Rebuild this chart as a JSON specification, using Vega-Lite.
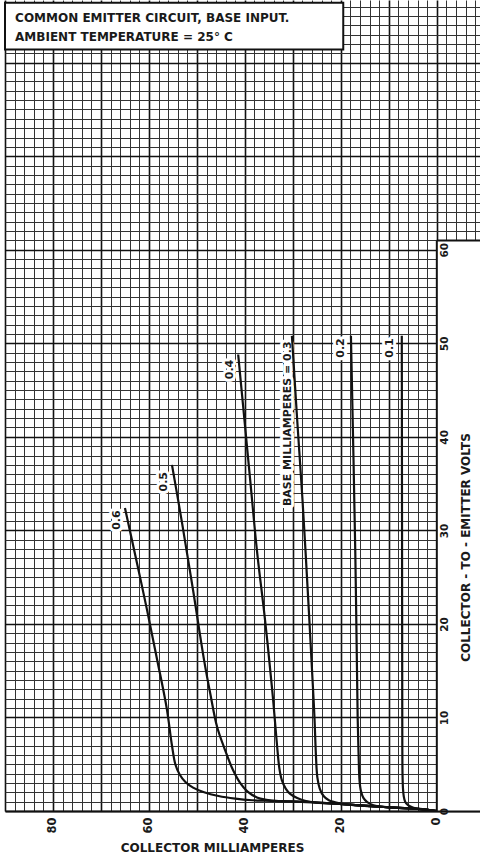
{
  "$schema": "https://vega.github.io/schema/vega-lite/v6.json",
  "width": 475,
  "height": 811,
  "autosize": {"type": "none"},
  "padding": {"left": 5, "top": 0, "right": 0, "bottom": 44},
  "background": "white",
  "config": {"view": {"stroke": null}, "font": "DejaVu Sans"},
  "resolve": {"axis": {"x": "independent", "y": "independent"}},
  "layer": [
    {
      "data": {"values": [{"ma": 0, "ma2": -9, "v": 0, "v2": 61}]},
      "mark": {"type": "rect", "fill": "white", "strokeWidth": 0},
      "encoding": {
        "x": {"field": "ma", "type": "quantitative", "scale": {"domain": [-9, 90], "reverse": true, "nice": false, "zero": false},
          "axis": {"orient": "bottom", "values": [-8,-6,-4,-2,0,2,4,6,8,10,12,14,16,18,20,22,24,26,28,30,32,34,36,38,40,42,44,46,48,50,52,54,56,58,60,62,64,66,68,70,72,74,76,78,80,82,84,86,88,90],
            "grid": true, "labels": false, "ticks": false, "domain": false, "title": null, "zindex": 0,
            "gridColor": {"condition": {"test": "datum.value % 10 === 0", "value": "#111111"}, "value": "#333333"},
            "gridWidth": {"condition": {"test": "datum.value % 10 === 0", "value": 1.6}, "value": 1},
            "gridOpacity": 1}},
        "x2": {"field": "ma2"},
        "y": {"field": "v", "type": "quantitative", "scale": {"domain": [0, 86.7], "nice": false, "zero": false},
          "axis": {"orient": "left", "values": [0,1,2,3,4,5,6,7,8,9,10,11,12,13,14,15,16,17,18,19,20,21,22,23,24,25,26,27,28,29,30,31,32,33,34,35,36,37,38,39,40,41,42,43,44,45,46,47,48,49,50,51,52,53,54,55,56,57,58,59,60,61,62,63,64,65,66,67,68,69,70,71,72,73,74,75,76,77,78,79,80,81,82,83,84,85,86],
            "grid": true, "labels": false, "ticks": false, "domain": false, "title": null, "zindex": 0,
            "gridColor": {"condition": {"test": "datum.value % 10 === 0", "value": "#111111"}, "value": "#333333"},
            "gridWidth": {"condition": {"test": "datum.value % 10 === 0", "value": 1.6}, "value": 1},
            "gridOpacity": 1}},
        "y2": {"field": "v2"}
      }
    },
    {
      "data": {"values": [{"ma": 90, "ma2": 19.5, "v": 81.4, "v2": 86.4}]},
      "mark": {"type": "rect", "fill": "white", "stroke": "#111111", "strokeWidth": 2},
      "encoding": {
        "x": {"field": "ma", "type": "quantitative", "scale": {"domain": [-9, 90], "reverse": true, "nice": false, "zero": false}, "axis": null},
        "x2": {"field": "ma2"},
        "y": {"field": "v", "type": "quantitative", "scale": {"domain": [0, 86.7], "nice": false, "zero": false}, "axis": null},
        "y2": {"field": "v2"}
      }
    },
    {
      "data": {"values": [{"ma": 0, "ma2": 0, "v": 0, "v2": 61}, {"ma": 0, "ma2": -9, "v": 61, "v2": 61}]},
      "mark": {"type": "rule", "color": "#111111", "strokeWidth": 2},
      "encoding": {
        "x": {"field": "ma", "type": "quantitative", "scale": {"domain": [-9, 90], "reverse": true, "nice": false, "zero": false}, "axis": null},
        "x2": {"field": "ma2"},
        "y": {"field": "v", "type": "quantitative", "scale": {"domain": [0, 86.7], "nice": false, "zero": false}, "axis": null},
        "y2": {"field": "v2"}
      }
    },
    {
      "data": {"name": "labels", "values": [
        {"label": "0.6", "ma": 66.7, "v": 31.1},
        {"label": "0.5", "ma": 56.8, "v": 35.2},
        {"label": "0.4", "ma": 43.1, "v": 47.2},
        {"label": "BASE MILLIAMPERES = 0.3", "ma": 31.0, "v": 41.4},
        {"label": "0.2", "ma": 19.9, "v": 49.5},
        {"label": "0.1", "ma": 9.8, "v": 49.5}
      ]},
      "mark": {"type": "text", "angle": 270, "fontSize": 11, "fontWeight": "bold", "fill": "white", "stroke": "white", "strokeWidth": 6, "strokeJoin": "round", "align": "center", "baseline": "middle"},
      "encoding": {
        "x": {"field": "ma", "type": "quantitative", "scale": {"domain": [-9, 90], "reverse": true, "nice": false, "zero": false}, "axis": null},
        "y": {"field": "v", "type": "quantitative", "scale": {"domain": [0, 86.7], "nice": false, "zero": false}, "axis": null},
        "text": {"field": "label"}
      }
    },
    {
      "data": {"values": [
        {"base": "0.1", "ma": 0, "v": 0}, {"base": "0.1", "ma": 1.5, "v": 0.1}, {"base": "0.1", "ma": 3.5, "v": 0.22}, {"base": "0.1", "ma": 5.0, "v": 0.38}, {"base": "0.1", "ma": 6.0, "v": 0.62}, {"base": "0.1", "ma": 6.6, "v": 1.0}, {"base": "0.1", "ma": 6.9, "v": 1.6}, {"base": "0.1", "ma": 7.05, "v": 2.4}, {"base": "0.1", "ma": 7.15, "v": 4}, {"base": "0.1", "ma": 7.2, "v": 10}, {"base": "0.1", "ma": 7.25, "v": 30}, {"base": "0.1", "ma": 7.3, "v": 50.8},
        {"base": "0.2", "ma": 0, "v": 0}, {"base": "0.2", "ma": 1.5, "v": 0.1}, {"base": "0.2", "ma": 3.5, "v": 0.2}, {"base": "0.2", "ma": 5.5, "v": 0.27}, {"base": "0.2", "ma": 8, "v": 0.34}, {"base": "0.2", "ma": 11, "v": 0.45}, {"base": "0.2", "ma": 13.2, "v": 0.62}, {"base": "0.2", "ma": 14.5, "v": 0.95}, {"base": "0.2", "ma": 15.3, "v": 1.4}, {"base": "0.2", "ma": 15.8, "v": 2.1}, {"base": "0.2", "ma": 16.1, "v": 3.2}, {"base": "0.2", "ma": 16.3, "v": 6}, {"base": "0.2", "ma": 16.5, "v": 10}, {"base": "0.2", "ma": 17.0, "v": 27.9}, {"base": "0.2", "ma": 17.9, "v": 50.8},
        {"base": "0.3", "ma": 0, "v": 0}, {"base": "0.3", "ma": 1.5, "v": 0.1}, {"base": "0.3", "ma": 3.5, "v": 0.2}, {"base": "0.3", "ma": 5.5, "v": 0.27}, {"base": "0.3", "ma": 8, "v": 0.34}, {"base": "0.3", "ma": 12, "v": 0.46}, {"base": "0.3", "ma": 17, "v": 0.63}, {"base": "0.3", "ma": 20.5, "v": 0.85}, {"base": "0.3", "ma": 22.5, "v": 1.15}, {"base": "0.3", "ma": 23.6, "v": 1.6}, {"base": "0.3", "ma": 24.4, "v": 2.4}, {"base": "0.3", "ma": 24.9, "v": 3.6}, {"base": "0.3", "ma": 25.2, "v": 6}, {"base": "0.3", "ma": 25.5, "v": 10}, {"base": "0.3", "ma": 25.9, "v": 14}, {"base": "0.3", "ma": 26.8, "v": 22.6}, {"base": "0.3", "ma": 28.0, "v": 33.3}, {"base": "0.3", "ma": 29.1, "v": 41.8}, {"base": "0.3", "ma": 30.2, "v": 50.8},
        {"base": "0.4", "ma": 0, "v": 0}, {"base": "0.4", "ma": 1.5, "v": 0.1}, {"base": "0.4", "ma": 3.5, "v": 0.2}, {"base": "0.4", "ma": 5.5, "v": 0.27}, {"base": "0.4", "ma": 8, "v": 0.34}, {"base": "0.4", "ma": 12, "v": 0.46}, {"base": "0.4", "ma": 17, "v": 0.63}, {"base": "0.4", "ma": 21, "v": 0.78}, {"base": "0.4", "ma": 25, "v": 0.9}, {"base": "0.4", "ma": 27.5, "v": 1.1}, {"base": "0.4", "ma": 29.1, "v": 1.38}, {"base": "0.4", "ma": 30.5, "v": 1.8}, {"base": "0.4", "ma": 31.5, "v": 2.4}, {"base": "0.4", "ma": 32.3, "v": 3.3}, {"base": "0.4", "ma": 32.8, "v": 4.5}, {"base": "0.4", "ma": 33.3, "v": 7}, {"base": "0.4", "ma": 34.3, "v": 12.9}, {"base": "0.4", "ma": 35.8, "v": 20.4}, {"base": "0.4", "ma": 37.5, "v": 27.9}, {"base": "0.4", "ma": 38.9, "v": 35.4}, {"base": "0.4", "ma": 41.4, "v": 48.8},
        {"base": "0.5", "ma": 0, "v": 0}, {"base": "0.5", "ma": 1.5, "v": 0.1}, {"base": "0.5", "ma": 3.5, "v": 0.2}, {"base": "0.5", "ma": 5.5, "v": 0.27}, {"base": "0.5", "ma": 8, "v": 0.34}, {"base": "0.5", "ma": 12, "v": 0.46}, {"base": "0.5", "ma": 17, "v": 0.63}, {"base": "0.5", "ma": 21, "v": 0.78}, {"base": "0.5", "ma": 25, "v": 0.9}, {"base": "0.5", "ma": 29, "v": 1.0}, {"base": "0.5", "ma": 33, "v": 1.06}, {"base": "0.5", "ma": 35.5, "v": 1.2}, {"base": "0.5", "ma": 37.5, "v": 1.45}, {"base": "0.5", "ma": 39.5, "v": 2.1}, {"base": "0.5", "ma": 41, "v": 3.0}, {"base": "0.5", "ma": 42.5, "v": 4.4}, {"base": "0.5", "ma": 44.2, "v": 6.6}, {"base": "0.5", "ma": 45.8, "v": 9.0}, {"base": "0.5", "ma": 47.2, "v": 12.5}, {"base": "0.5", "ma": 48.5, "v": 16.1}, {"base": "0.5", "ma": 50.8, "v": 23.6}, {"base": "0.5", "ma": 53.1, "v": 30.8}, {"base": "0.5", "ma": 55.2, "v": 37.0},
        {"base": "0.6", "ma": 0, "v": 0}, {"base": "0.6", "ma": 1.5, "v": 0.1}, {"base": "0.6", "ma": 3.5, "v": 0.2}, {"base": "0.6", "ma": 5.5, "v": 0.27}, {"base": "0.6", "ma": 8, "v": 0.34}, {"base": "0.6", "ma": 12, "v": 0.46}, {"base": "0.6", "ma": 17, "v": 0.63}, {"base": "0.6", "ma": 21, "v": 0.78}, {"base": "0.6", "ma": 25, "v": 0.9}, {"base": "0.6", "ma": 29, "v": 1.0}, {"base": "0.6", "ma": 33, "v": 1.06}, {"base": "0.6", "ma": 36, "v": 1.1}, {"base": "0.6", "ma": 38.5, "v": 1.15}, {"base": "0.6", "ma": 42, "v": 1.32}, {"base": "0.6", "ma": 45.5, "v": 1.6}, {"base": "0.6", "ma": 48.5, "v": 2.0}, {"base": "0.6", "ma": 50.8, "v": 2.5}, {"base": "0.6", "ma": 52.4, "v": 3.1}, {"base": "0.6", "ma": 53.6, "v": 3.9}, {"base": "0.6", "ma": 54.5, "v": 5.0}, {"base": "0.6", "ma": 55.2, "v": 7.0}, {"base": "0.6", "ma": 56.3, "v": 11.0}, {"base": "0.6", "ma": 58.3, "v": 16.2}, {"base": "0.6", "ma": 60.4, "v": 21.5}, {"base": "0.6", "ma": 62.7, "v": 27.0}, {"base": "0.6", "ma": 65.0, "v": 32.4}
      ]},
      "mark": {"type": "line", "color": "#111111", "strokeWidth": 2.2, "interpolate": "catmull-rom"},
      "encoding": {
        "x": {"field": "ma", "type": "quantitative", "scale": {"domain": [-9, 90], "reverse": true, "nice": false, "zero": false},
          "axis": {"orient": "bottom", "values": [0, 20, 40, 60, 80], "grid": false, "ticks": false, "tickSize": 0,
            "domain": true, "domainColor": "#111111", "domainWidth": 2,
            "labelAngle": 270, "labelAlign": "right", "labelBaseline": "middle", "labelPadding": 6,
            "labelFontSize": 11.5, "labelFontWeight": "bold", "labelColor": "#1a1a1a", "labelFont": "DejaVu Sans",
            "labelFlush": false, "labelOverlap": false,
            "title": "COLLECTOR MILLIAMPERES", "titleX": 207, "titleY": 36, "titleAlign": "center", "titleBaseline": "middle",
            "titleFontSize": 12, "titleFontWeight": "bold", "titleColor": "#1a1a1a", "titleFont": "DejaVu Sans", "zindex": 1}},
        "y": {"field": "v", "type": "quantitative", "scale": {"domain": [0, 86.7], "nice": false, "zero": false},
          "axis": {"orient": "right", "offset": -43.2, "values": [0, 10, 20, 30, 40, 50, 60], "grid": false, "ticks": false, "tickSize": 0,
            "domain": false,
            "labelAngle": 270, "labelAlign": "center", "labelBaseline": "middle", "labelPadding": 8,
            "labelFontSize": 10.5, "labelFontWeight": "bold", "labelColor": "#1a1a1a", "labelFont": "DejaVu Sans",
            "labelFlush": false, "labelOverlap": false,
            "title": "COLLECTOR - TO - EMITTER VOLTS", "titleAngle": 270, "titleX": 29, "titleY": 547, "titleAlign": "center", "titleBaseline": "middle",
            "titleFontSize": 12, "titleFontWeight": "bold", "titleColor": "#1a1a1a", "titleFont": "DejaVu Sans", "zindex": 1}},
        "detail": {"field": "base"},
        "order": {"field": "v", "type": "quantitative"}
      }
    },
    {
      "data": {"name": "labels"},
      "mark": {"type": "text", "angle": 270, "fontSize": 11, "fontWeight": "bold", "color": "#1a1a1a", "align": "center", "baseline": "middle"},
      "encoding": {
        "x": {"field": "ma", "type": "quantitative", "scale": {"domain": [-9, 90], "reverse": true, "nice": false, "zero": false}, "axis": null},
        "y": {"field": "v", "type": "quantitative", "scale": {"domain": [0, 86.7], "nice": false, "zero": false}, "axis": null},
        "text": {"field": "label"}
      }
    },
    {
      "data": {"values": [
        {"line": "COMMON EMITTER CIRCUIT, BASE INPUT.", "ma": 87.9, "v": 84.8},
        {"line": "AMBIENT TEMPERATURE = 25° C", "ma": 87.9, "v": 82.7}
      ]},
      "mark": {"type": "text", "fontSize": 12, "fontWeight": "bold", "color": "#1a1a1a", "align": "left", "baseline": "middle"},
      "encoding": {
        "x": {"field": "ma", "type": "quantitative", "scale": {"domain": [-9, 90], "reverse": true, "nice": false, "zero": false}, "axis": null},
        "y": {"field": "v", "type": "quantitative", "scale": {"domain": [0, 86.7], "nice": false, "zero": false}, "axis": null},
        "text": {"field": "line"}
      }
    }
  ]
}
